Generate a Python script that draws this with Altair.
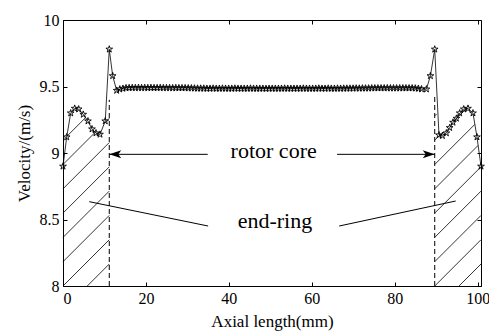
import altair as alt
import numpy as np
import pandas as pd

# ---- data ----
x_left = [0.0, 0.89, 1.86, 2.82, 3.78, 4.89, 6.02, 6.99, 7.95, 8.92, 10.19, 11.16, 11.98, 12.94]
y_left = [8.90, 9.12, 9.30, 9.335, 9.33, 9.29, 9.24, 9.18, 9.15, 9.14, 9.24, 9.78, 9.58, 9.47]

x_flat = [13.7, 14.45, 15.2, 15.95, 16.7, 17.45, 18.2, 18.95, 19.7, 20.45,
          21.2, 21.95, 22.7, 23.45, 24.2, 24.95, 25.7, 26.45, 27.2, 27.95,
          28.7, 29.45, 30.2, 30.95, 31.7, 32.45, 33.2, 33.95, 34.7, 35.45,
          36.2, 36.95, 37.7, 38.45, 39.2, 39.95, 40.7, 41.45, 42.2, 42.95,
          43.7, 44.45, 45.2, 45.95, 46.7, 47.45, 48.2, 48.95, 49.7, 50.45,
          51.2, 51.95, 52.7, 53.45, 54.2, 54.95, 55.7, 56.45, 57.2, 57.95,
          58.7, 59.45, 60.2, 60.95, 61.7, 62.45, 63.2, 63.95, 64.7, 65.45,
          66.2, 66.95, 67.7, 68.45, 69.2, 69.95, 70.7, 71.45, 72.2, 72.95,
          73.7, 74.45, 75.2, 75.95, 76.7, 77.45, 78.2, 78.95, 79.7, 80.45,
          81.2, 81.95, 82.7, 83.45, 84.2, 84.95, 85.7, 86.45]
y_flat = [9.480, 9.485, 9.489, 9.490, 9.491, 9.490, 9.491, 9.490, 9.491, 9.490,
          9.491, 9.490, 9.490, 9.491, 9.490, 9.490, 9.490, 9.489, 9.490, 9.489,
          9.489, 9.489, 9.488, 9.488, 9.487, 9.486, 9.486, 9.486, 9.485, 9.485,
          9.486, 9.485, 9.485, 9.486, 9.485, 9.485, 9.485, 9.486, 9.485, 9.485,
          9.485, 9.485, 9.486, 9.485, 9.485, 9.485, 9.485, 9.484, 9.485, 9.485,
          9.485, 9.485, 9.485, 9.486, 9.485, 9.485, 9.485, 9.485, 9.485, 9.486,
          9.485, 9.485, 9.485, 9.485, 9.486, 9.485, 9.485, 9.486, 9.485, 9.485,
          9.486, 9.485, 9.486, 9.486, 9.486, 9.486, 9.487, 9.486, 9.487, 9.487,
          9.487, 9.488, 9.488, 9.488, 9.488, 9.488, 9.489, 9.488, 9.488, 9.488,
          9.488, 9.488, 9.488, 9.488, 9.488, 9.487, 9.485, 9.481]

x_right = [87.64, 88.6, 89.64, 90.67, 91.49, 92.45, 93.25, 94.05, 94.87, 95.66, 96.63, 97.66, 98.87, 99.83, 100.8]
y_right = [9.48, 9.58, 9.78, 9.135, 9.13, 9.15, 9.19, 9.23, 9.26, 9.30, 9.33, 9.335, 9.30, 9.12, 8.90]

x_ticks = [0, 20, 40, 60, 80, 100]
y_ticks = [8, 8.5, 9, 9.5, 10]
x_domain = [0, 100.8]
y_domain = [8, 10]

# annotation geometry (data units)
ring_left_x = 11.16
ring_right_x = 89.64
dash_top_left = 9.40
dash_top_right = 9.43
arrow_y = 8.99
arrow_tail_left = 34.9
arrow_tail_right = 66.1
endring_lines = [(35.0, 8.451, 6.34, 8.634), (66.6, 8.451, 94.7, 8.639)]
labels = ["rotor core", "end-ring"]
label_x = [50.8, 51.1]
label_y = [8.960, 8.436]

W, H = 418, 266
FONT = "Liberation Serif"

df = pd.DataFrame({"x": x_left + x_flat + x_right, "y": y_left + y_flat + y_right})


# ---- hatch lines (45 degrees on screen) clipped to each end-ring region ----
def hatch(xa, xb, top_x, top_y):
    s = (W / (x_domain[1] - x_domain[0])) / (H / (y_domain[1] - y_domain[0]))
    h = 24.3 * (y_domain[1] - y_domain[0]) / H
    xs = np.linspace(xa, xb, 4000)
    top = np.interp(xs, top_x, top_y)
    segs = []
    for k in range(-30, 30):
        ys = y_domain[0] + (xs - xa) * s + k * h
        m = (ys >= y_domain[0]) & (ys <= top)
        if not m.any():
            continue
        idx = np.flatnonzero(m)
        br = np.flatnonzero(np.diff(idx) > 1)
        starts = np.r_[idx[0], idx[br + 1]]
        ends = np.r_[idx[br], idx[-1]]
        for a, b in zip(starts, ends):
            if b > a:
                segs.append({"x": xs[a], "y": ys[a], "x2": xs[b], "y2": ys[b]})
    return segs


segs = hatch(0.0, ring_left_x, x_left[:11] + [ring_left_x], y_left[:11] + [dash_top_left])
segs += hatch(ring_right_x, x_right[-1], [ring_right_x] + x_right[3:], [dash_top_right] + y_right[3:])
hatch_df = pd.DataFrame(segs)

dash_df = pd.DataFrame({"x": [ring_left_x, ring_right_x], "y": [8, 8],
                        "y2": [dash_top_left, dash_top_right]})
ann_df = pd.DataFrame(
    [{"x": arrow_tail_left, "y": arrow_y, "x2": ring_left_x, "y2": arrow_y},
     {"x": arrow_tail_right, "y": arrow_y, "x2": ring_right_x, "y2": arrow_y}]
    + [{"x": a, "y": b, "x2": c, "y2": d} for a, b, c, d in endring_lines])
head_df = pd.DataFrame({"x": [ring_left_x, ring_right_x], "y": [arrow_y, arrow_y], "dir": ["l", "r"]})
text_df = pd.DataFrame({"x": label_x, "y": label_y, "t": labels})

xs = alt.Scale(domain=x_domain, nice=False, zero=False)
ys = alt.Scale(domain=y_domain, nice=False, zero=False)

common_axis = dict(tickSize=4, offset=-4, domain=False, grid=False, tickColor="black",
                   tickWidth=1, labelFont=FONT, labelFontSize=16, labelColor="black",
                   titleFont=FONT, titleFontSize=17, titleFontWeight="normal", titleColor="black")

x_bottom = alt.Axis(orient="bottom", values=x_ticks, labelPadding=4, title="Axial length(mm)",
                    titlePadding=7, format="d", **common_axis)
y_left_ax = alt.Axis(orient="left", values=y_ticks, labelPadding=4, title="Velocity/(m/s)",
                     titlePadding=6, format="~g", **common_axis)
x_top = alt.Axis(orient="top", values=x_ticks, labels=False, title=None, **common_axis)
y_right_ax = alt.Axis(orient="right", values=y_ticks, labels=False, title=None, **common_axis)

hatch_layer = alt.Chart(hatch_df).mark_rule(color="black", strokeWidth=0.8).encode(
    x=alt.X("x:Q", scale=xs, axis=None), y=alt.Y("y:Q", scale=ys, axis=None),
    x2="x2:Q", y2="y2:Q")

dash_layer = alt.Chart(dash_df).mark_rule(color="black", strokeWidth=1, strokeDash=[5, 3]).encode(
    x=alt.X("x:Q", scale=xs, axis=None), y=alt.Y("y:Q", scale=ys, axis=None), y2="y2:Q")

ann_layer = alt.Chart(ann_df).mark_rule(color="black", strokeWidth=1).encode(
    x=alt.X("x:Q", scale=xs, axis=None), y=alt.Y("y:Q", scale=ys, axis=None),
    x2="x2:Q", y2="y2:Q")

head_l = alt.Chart(head_df[head_df.dir == "l"]).mark_point(
    shape="M0,0L1,-0.33L0.75,0L1,0.33Z", size=576, filled=True, color="black", opacity=1
).encode(x=alt.X("x:Q", scale=xs, axis=None), y=alt.Y("y:Q", scale=ys, axis=None))
head_r = alt.Chart(head_df[head_df.dir == "r"]).mark_point(
    shape="M0,0L-1,-0.33L-0.75,0L-1,0.33Z", size=576, filled=True, color="black", opacity=1
).encode(x=alt.X("x:Q", scale=xs, axis=None), y=alt.Y("y:Q", scale=ys, axis=None))

line_layer = alt.Chart(df).mark_line(color="black", strokeWidth=0.8).encode(
    x=alt.X("x:Q", scale=xs, axis=x_bottom), y=alt.Y("y:Q", scale=ys, axis=y_left_ax))

star = "M0,-1L0.225,-0.309L0.951,-0.309L0.363,0.118L0.588,0.809L0,0.382L-0.588,0.809L-0.363,0.118L-0.951,-0.309L-0.225,-0.309Z"
star_layer = alt.Chart(df).mark_point(shape=star, size=50, filled=False, color="black",
                                      strokeWidth=0.9, opacity=1).encode(
    x=alt.X("x:Q", scale=xs, axis=x_top), y=alt.Y("y:Q", scale=ys, axis=y_right_ax))

text_layer = alt.Chart(text_df).mark_text(font=FONT, fontSize=22, color="black",
                                          align="center", baseline="alphabetic").encode(
    x=alt.X("x:Q", scale=xs, axis=None), y=alt.Y("y:Q", scale=ys, axis=None), text="t:N")

chart = alt.layer(hatch_layer, dash_layer, ann_layer, head_l, head_r, line_layer, star_layer,
                  text_layer).resolve_axis(x="independent", y="independent").properties(
    width=W, height=H,
    autosize=alt.AutoSizeParams(type="none"),
    padding={"left": 63, "top": 20, "right": 8, "bottom": 47},
    background="white",
).configure_view(stroke="black", strokeWidth=1)

chart.save("out.html", embed_options={"renderer": "svg", "actions": False})
